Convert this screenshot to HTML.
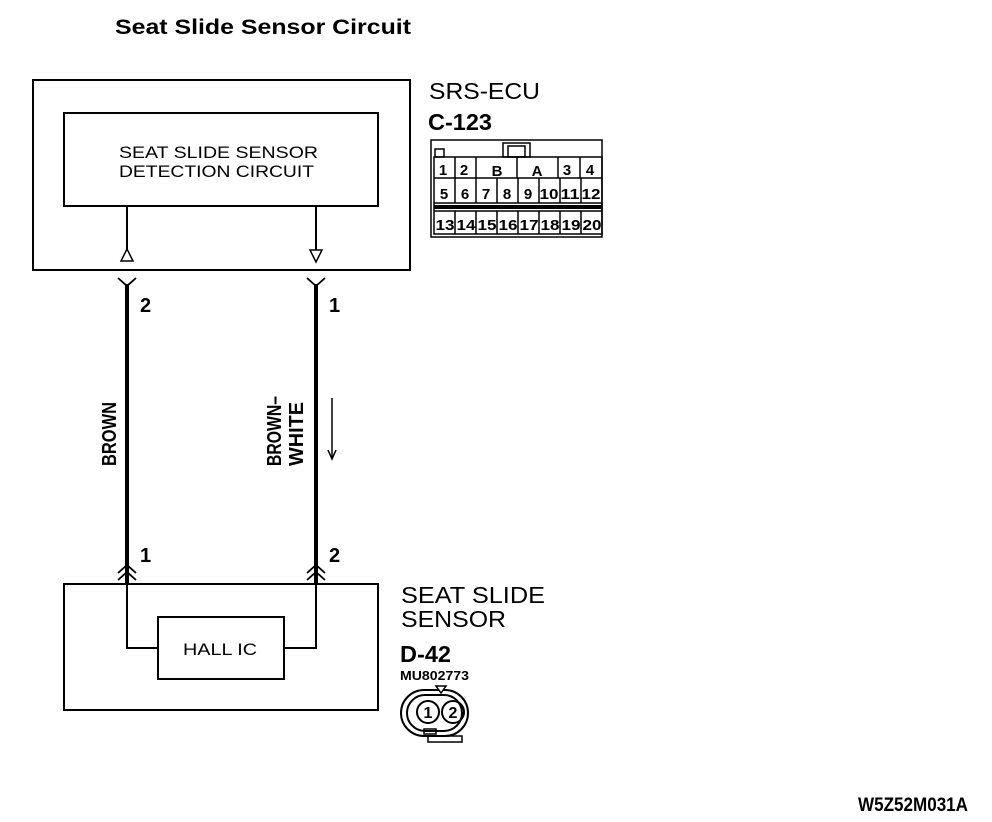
<!DOCTYPE html>
<html><head><meta charset="utf-8"><style>
html,body{margin:0;padding:0;background:#fff;}
svg{display:block;}
text{font-family:"Liberation Sans",sans-serif;fill:#000;}
.c{font-family:"Liberation Sans Narrow","Liberation Sans",sans-serif;font-weight:bold;}
</style></head><body>
<svg width="992" height="822" viewBox="0 0 992 822" xmlns="http://www.w3.org/2000/svg">
<rect width="992" height="822" fill="#fff"/>
<text x="115" y="34" font-size="21" font-weight="bold" textLength="296" lengthAdjust="spacingAndGlyphs">Seat Slide Sensor Circuit</text>

<g fill="none" stroke="#000" stroke-width="2">
<rect x="33" y="80" width="377" height="190"/>
<rect x="64" y="113" width="314" height="93"/>
<line x1="127" y1="206" x2="127" y2="250"/>
<line x1="316" y1="206" x2="316" y2="250"/>
<polygon points="127,249 121,261 133,261" stroke-width="1.5"/>
<polygon points="316,262 310,250 322,250" stroke-width="1.5"/>
<rect x="64" y="584" width="314" height="126"/>
<rect x="158" y="617" width="126" height="62"/>
<polyline points="127,584 127,648 158,648"/>
<polyline points="316,584 316,648 284,648"/>
</g>
<text x="119" y="158" font-size="17" textLength="199" lengthAdjust="spacingAndGlyphs">SEAT SLIDE SENSOR</text>
<text x="119" y="177" font-size="17" textLength="195" lengthAdjust="spacingAndGlyphs">DETECTION CIRCUIT</text>
<text x="183" y="655" font-size="17" textLength="74" lengthAdjust="spacingAndGlyphs">HALL IC</text>

<!-- wires -->
<g stroke="#000" fill="none">
<line x1="127" y1="284" x2="127" y2="584" stroke-width="4"/>
<line x1="316" y1="284" x2="316" y2="584" stroke-width="4"/>
<polyline points="118,278 127,286 136,278" stroke-width="1.8"/>
<polyline points="307,278 316,286 325,278" stroke-width="1.8"/>
<polyline points="118,573 127,565 136,573" stroke-width="1.8"/>
<polyline points="118,580 127,572 136,580" stroke-width="1.8"/>
<polyline points="307,573 316,565 325,573" stroke-width="1.8"/>
<polyline points="307,580 316,572 325,580" stroke-width="1.8"/>
<line x1="332" y1="398" x2="332" y2="458" stroke-width="1.5"/>
<polyline points="328,450 332,459 336,450" stroke-width="1.5"/>
</g>
<text class="c" x="140" y="312" font-size="20">2</text>
<text class="c" x="329" y="312" font-size="20">1</text>
<text class="c" x="140" y="562" font-size="20">1</text>
<text class="c" x="329" y="562" font-size="20">2</text>
<text class="c" transform="translate(116,466) rotate(-90)" font-size="20" textLength="64" lengthAdjust="spacingAndGlyphs">BROWN</text>
<text class="c" transform="translate(281,466) rotate(-90)" font-size="20" textLength="70" lengthAdjust="spacingAndGlyphs">BROWN–</text>
<text class="c" transform="translate(303,466) rotate(-90)" font-size="20" textLength="64" lengthAdjust="spacingAndGlyphs">WHITE</text>

<text x="429" y="99" font-size="23" textLength="111" lengthAdjust="spacingAndGlyphs">SRS-ECU</text>
<text class="c" x="428" y="130" font-size="23" textLength="64" lengthAdjust="spacingAndGlyphs">C-123</text>

<!-- C-123 connector -->
<g fill="none" stroke="#000" stroke-width="1.5">
<rect x="431" y="140" width="171" height="97"/>
<rect x="435" y="149" width="9" height="8"/>
<rect x="503" y="143" width="27" height="14"/>
<rect x="508" y="146" width="17" height="11"/>
<rect x="434" y="157" width="168" height="77"/>
<line x1="434" y1="178" x2="602" y2="178"/>
<line x1="434" y1="203" x2="602" y2="203"/>
<line x1="434" y1="211" x2="602" y2="211"/>
<line x1="455" y1="157" x2="455" y2="178"/><line x1="476" y1="157" x2="476" y2="178"/>
<line x1="517" y1="157" x2="517" y2="178"/><line x1="558" y1="157" x2="558" y2="178"/>
<line x1="580" y1="157" x2="580" y2="178"/>
<g>
<line x1="455" y1="178" x2="455" y2="203"/><line x1="476" y1="178" x2="476" y2="203"/>
<line x1="497" y1="178" x2="497" y2="203"/><line x1="518" y1="178" x2="518" y2="203"/>
<line x1="539" y1="178" x2="539" y2="203"/><line x1="560" y1="178" x2="560" y2="203"/>
<line x1="581" y1="178" x2="581" y2="203"/>
<line x1="455" y1="211" x2="455" y2="234"/><line x1="476" y1="211" x2="476" y2="234"/>
<line x1="497" y1="211" x2="497" y2="234"/><line x1="518" y1="211" x2="518" y2="234"/>
<line x1="539" y1="211" x2="539" y2="234"/><line x1="560" y1="211" x2="560" y2="234"/>
<line x1="581" y1="211" x2="581" y2="234"/>
</g>
</g>
<rect x="434" y="205" width="168" height="4" fill="#000"/>
<g class="c" font-size="15" text-anchor="middle">
<text x="443" y="175">1</text><text x="464" y="175">2</text>
<text x="497" y="176">B</text><text x="537" y="176">A</text>
<text x="567" y="175">3</text><text x="590" y="175">4</text>
<text x="444" y="199">5</text><text x="465" y="199">6</text><text x="486" y="199">7</text>
<text x="507" y="199">8</text><text x="528" y="199">9</text><text x="549" y="199" textLength="19" lengthAdjust="spacingAndGlyphs">10</text>
<text x="570" y="199" textLength="19" lengthAdjust="spacingAndGlyphs">11</text><text x="591" y="199" textLength="19" lengthAdjust="spacingAndGlyphs">12</text>
<text x="445" y="230" textLength="19" lengthAdjust="spacingAndGlyphs">13</text><text x="466" y="230" textLength="19" lengthAdjust="spacingAndGlyphs">14</text>
<text x="487" y="230" textLength="19" lengthAdjust="spacingAndGlyphs">15</text><text x="508" y="230" textLength="19" lengthAdjust="spacingAndGlyphs">16</text>
<text x="529" y="230" textLength="19" lengthAdjust="spacingAndGlyphs">17</text><text x="550" y="230" textLength="19" lengthAdjust="spacingAndGlyphs">18</text>
<text x="571" y="230" textLength="19" lengthAdjust="spacingAndGlyphs">19</text><text x="592" y="230" textLength="19" lengthAdjust="spacingAndGlyphs">20</text>
</g>

<text x="401" y="603" font-size="23" textLength="144" lengthAdjust="spacingAndGlyphs">SEAT SLIDE</text>
<text x="401" y="627" font-size="23" textLength="105" lengthAdjust="spacingAndGlyphs">SENSOR</text>
<text class="c" x="400" y="662" font-size="23" textLength="51" lengthAdjust="spacingAndGlyphs">D-42</text>
<text class="c" x="400" y="680" font-size="13" textLength="69" lengthAdjust="spacingAndGlyphs">MU802773</text>

<!-- D-42 connector -->
<g fill="none" stroke="#000" stroke-width="2">
<rect x="401" y="690" width="67" height="46" rx="23"/>
<rect x="407" y="695" width="55" height="36" rx="18"/>
<circle cx="428" cy="712" r="11"/>
<circle cx="453" cy="712" r="11"/>
<rect x="424" y="729" width="12" height="5" stroke-width="1.5"/>
<rect x="428" y="736" width="34" height="6" stroke-width="1.5"/>
</g>
<polygon points="436,686 446,686 441,693" fill="#fff" stroke="#000" stroke-width="1.5"/>
<g class="c" font-size="16" text-anchor="middle"><text x="428" y="718">1</text><text x="453" y="718">2</text></g>

<text class="c" x="858" y="811" font-size="19" textLength="110" lengthAdjust="spacingAndGlyphs">W5Z52M031A</text>
</svg>
</body></html>
